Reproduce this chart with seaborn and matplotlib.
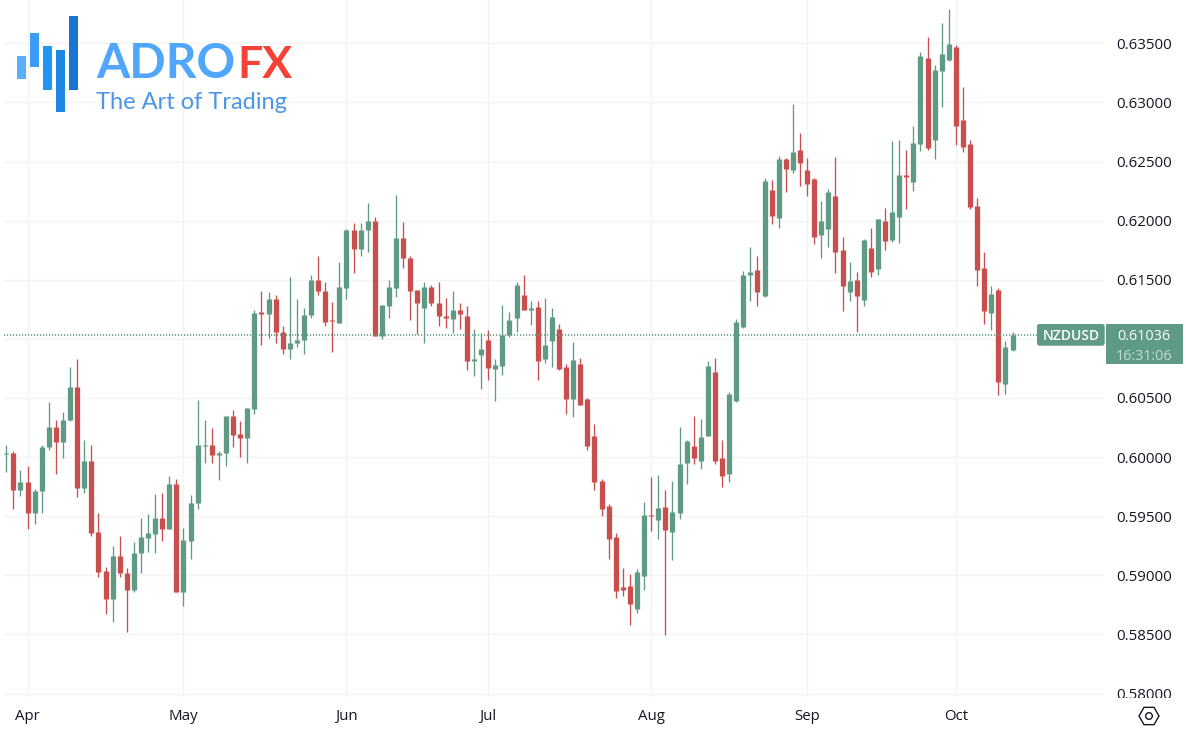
import matplotlib
matplotlib.use('Agg')
import matplotlib.pyplot as plt
from matplotlib.patches import Rectangle, RegularPolygon, Circle, FancyBboxPatch
from matplotlib.transforms import Bbox
import pandas as pd
import seaborn as sns

# NZDUSD daily candles
opens = [
    0.60027, 0.60037, 0.59718, 0.59791, 0.59526, 0.59710, 0.60085, 0.60251, 0.60127, 0.60310,
    0.60595, 0.59735, 0.59963, 0.59363, 0.59033, 0.58796, 0.59165, 0.59019, 0.58872, 0.59188,
    0.59318, 0.59351, 0.59481, 0.59391, 0.59774, 0.58858, 0.59289, 0.59611, 0.60094, 0.60104,
    0.60017, 0.60034, 0.60344, 0.60192, 0.60161, 0.60403, 0.61223, 0.61214, 0.61338, 0.61056,
    0.60913, 0.60966, 0.60994, 0.61206, 0.61499, 0.61406, 0.61158, 0.61138, 0.61434, 0.61922,
    0.61764, 0.61919, 0.61998, 0.61025, 0.61282, 0.61434, 0.61854, 0.61682, 0.61415, 0.61265,
    0.61437, 0.61305, 0.61195, 0.61169, 0.61240, 0.61195, 0.60817, 0.60867, 0.60992, 0.60749,
    0.60769, 0.61034, 0.61178, 0.61372, 0.61247, 0.61271, 0.60833, 0.60982, 0.61087, 0.60765,
    0.60494, 0.60790, 0.60494, 0.60176, 0.59798, 0.59586, 0.59321, 0.58901, 0.58910, 0.58718,
    0.58997, 0.59510, 0.59465, 0.59581, 0.59364, 0.59530, 0.59947, 0.60097, 0.59970, 0.60181,
    0.60717, 0.59995, 0.59860, 0.60472, 0.61098, 0.61538, 0.61585, 0.61363, 0.62257, 0.62025,
    0.62519, 0.62429, 0.62598, 0.62429, 0.62353, 0.61879, 0.61932, 0.62209, 0.61752, 0.61397,
    0.61501, 0.61329, 0.61766, 0.61591, 0.61997, 0.61836, 0.62028, 0.62389, 0.62324, 0.62647,
    0.63375, 0.62681, 0.63268, 0.63355, 0.63468, 0.62851, 0.62650, 0.62126, 0.61598, 0.61221,
    0.61412, 0.60620, 0.60910,
]
highs = [
    0.60104, 0.60051, 0.59887, 0.59924, 0.59726, 0.60104, 0.60462, 0.60310, 0.60384, 0.60761,
    0.60826, 0.60141, 0.60099, 0.59529, 0.59069, 0.59250, 0.59329, 0.59058, 0.59284, 0.59481,
    0.59515, 0.59684, 0.59693, 0.59842, 0.59811, 0.59397, 0.59676, 0.60479, 0.60316, 0.60243,
    0.60048, 0.60350, 0.60395, 0.60302, 0.60417, 0.61245, 0.61403, 0.61395, 0.61372, 0.61110,
    0.61522, 0.61336, 0.61259, 0.61536, 0.61702, 0.61479, 0.61310, 0.61651, 0.61931, 0.61979,
    0.61979, 0.62148, 0.62029, 0.61288, 0.61499, 0.62218, 0.61990, 0.61702, 0.61415, 0.61479,
    0.61457, 0.61479, 0.61344, 0.61403, 0.61302, 0.61279, 0.61082, 0.61048, 0.61073, 0.60828,
    0.61290, 0.61223, 0.61485, 0.61536, 0.61321, 0.61321, 0.61349, 0.61261, 0.61126, 0.60790,
    0.60977, 0.60841, 0.60500, 0.60283, 0.59818, 0.59603, 0.59361, 0.59059, 0.59011, 0.59056,
    0.59617, 0.59834, 0.59846, 0.59719, 0.59801, 0.60255, 0.60142, 0.60351, 0.60325, 0.60816,
    0.60841, 0.60148, 0.60548, 0.61168, 0.61572, 0.61780, 0.61701, 0.62358, 0.62344, 0.62547,
    0.62530, 0.62987, 0.62742, 0.62530, 0.62358, 0.62166, 0.62265, 0.62539, 0.61862, 0.61648,
    0.61569, 0.61842, 0.61938, 0.62014, 0.62107, 0.62671, 0.62685, 0.62598, 0.62798, 0.63426,
    0.63553, 0.63316, 0.63668, 0.63787, 0.63485, 0.63130, 0.62681, 0.62191, 0.61731, 0.61446,
    0.61426, 0.60981, 0.61057,
]
lows = [
    0.59873, 0.59563, 0.59670, 0.59391, 0.59430, 0.59526, 0.60059, 0.59856, 0.59992, 0.60305,
    0.59659, 0.59693, 0.59332, 0.58982, 0.58677, 0.58604, 0.58985, 0.58517, 0.58858, 0.59019,
    0.59199, 0.59193, 0.59287, 0.59391, 0.58858, 0.58739, 0.59137, 0.59557, 0.59949, 0.59946,
    0.59808, 0.59921, 0.60082, 0.59997, 0.59946, 0.60361, 0.60949, 0.61011, 0.60969, 0.60876,
    0.60831, 0.60927, 0.60876, 0.61175, 0.61375, 0.61113, 0.60893, 0.61133, 0.61341, 0.61556,
    0.61705, 0.61736, 0.61020, 0.60997, 0.61180, 0.61350, 0.61601, 0.61161, 0.61045, 0.60969,
    0.61282, 0.61113, 0.61093, 0.61048, 0.61082, 0.60738, 0.60687, 0.60580, 0.60650, 0.60478,
    0.60698, 0.61014, 0.61059, 0.61240, 0.61118, 0.60650, 0.60793, 0.60765, 0.60734, 0.60367,
    0.60339, 0.60444, 0.60060, 0.59719, 0.59505, 0.59138, 0.58811, 0.58828, 0.58580, 0.58681,
    0.58878, 0.59378, 0.59304, 0.58498, 0.59132, 0.59479, 0.59775, 0.59944, 0.59897, 0.60176,
    0.59944, 0.59747, 0.59787, 0.60469, 0.61095, 0.61323, 0.61281, 0.61351, 0.61972, 0.61938,
    0.62243, 0.62406, 0.62293, 0.62209, 0.61800, 0.61684, 0.61780, 0.61560, 0.61239, 0.61320,
    0.61061, 0.61278, 0.61526, 0.61543, 0.61752, 0.61820, 0.61811, 0.62102, 0.62251, 0.62588,
    0.62597, 0.62521, 0.62961, 0.63350, 0.62639, 0.62580, 0.62098, 0.61449, 0.61122, 0.61074,
    0.60524, 0.60532, 0.60899,
]
closes = [
    0.60037, 0.59721, 0.59791, 0.59526, 0.59710, 0.60085, 0.60251, 0.60127, 0.60316, 0.60595,
    0.59738, 0.59963, 0.59357, 0.59027, 0.58796, 0.59165, 0.59019, 0.58872, 0.59193, 0.59320,
    0.59354, 0.59481, 0.59391, 0.59774, 0.58858, 0.59295, 0.59611, 0.60099, 0.60104, 0.60017,
    0.60037, 0.60344, 0.60189, 0.60161, 0.60412, 0.61220, 0.61214, 0.61338, 0.61054, 0.60915,
    0.60966, 0.60994, 0.61206, 0.61499, 0.61406, 0.61144, 0.61147, 0.61437, 0.61922, 0.61764,
    0.61922, 0.61998, 0.61025, 0.61288, 0.61437, 0.61854, 0.61680, 0.61409, 0.61307, 0.61437,
    0.61307, 0.61195, 0.61178, 0.61245, 0.61209, 0.60817, 0.60828, 0.60915, 0.60752, 0.60780,
    0.61034, 0.61161, 0.61454, 0.61245, 0.61257, 0.60814, 0.60951, 0.61188, 0.60745, 0.60492,
    0.60824, 0.60444, 0.60091, 0.59787, 0.59558, 0.59304, 0.58870, 0.58873, 0.58760, 0.59031,
    0.59510, 0.59499, 0.59567, 0.59386, 0.59536, 0.59944, 0.60136, 0.59990, 0.60173, 0.60774,
    0.59964, 0.59843, 0.60537, 0.61143, 0.61538, 0.61566, 0.61399, 0.62336, 0.62042, 0.62522,
    0.62440, 0.62581, 0.62491, 0.62313, 0.61865, 0.61994, 0.62243, 0.61738, 0.61447, 0.61490,
    0.61366, 0.61834, 0.61566, 0.62014, 0.61831, 0.62076, 0.62389, 0.62372, 0.62657, 0.63392,
    0.62614, 0.63274, 0.63406, 0.63494, 0.62803, 0.62619, 0.62115, 0.61582, 0.61237, 0.61378,
    0.60634, 0.60927, 0.61034,
]

month_labels = ['Apr', 'May', 'Jun', 'Jul', 'Aug', 'Sep', 'Oct']
month_candles = [3, 25, 48, 68, 91, 113, 134]
price_ticks = [0.580, 0.585, 0.590, 0.595, 0.600, 0.605, 0.610, 0.615, 0.620, 0.625, 0.630, 0.635]
last_price = 0.61036

GREEN = '#5f9a85'
RED = '#c94f4f'
GRID = '#f2f3f5'
TEXT = '#131722'

W, H = 1186, 742

sns.set_theme(style='whitegrid')
plt.rcParams['font.family'] = ['Open Sans', 'DejaVu Sans']

df = pd.DataFrame({'open': opens, 'high': highs, 'low': lows, 'close': closes})
df['candle'] = df.index
df['side'] = ['up' if c >= o else 'down' for o, c in zip(opens, closes)]
palette = {'up': GREEN, 'down': RED}

wicks = df.melt(id_vars=['candle', 'side'], value_vars=['high', 'low'], value_name='price')
bodies = df.melt(id_vars=['candle', 'side'], value_vars=['open', 'close'], value_name='price')

fig = plt.figure(figsize=(W / 100, H / 100), dpi=100)
# chart pane is 4..1104 px across, 0..697 px down
ax = fig.add_axes([4 / W, (H - 697) / H, 1100 / W, 697 / H])

sns.lineplot(data=wicks, x='candle', y='price', units='candle', hue='side', palette=palette,
             estimator=None, sort=False, errorbar=None, legend=False, ax=ax,
             linewidth=0.95, solid_capstyle='butt')
sns.lineplot(data=bodies, x='candle', y='price', units='candle', hue='side', palette=palette,
             estimator=None, sort=False, errorbar=None, legend=False, ax=ax,
             linewidth=3.8, solid_capstyle='butt')

# dotted last price line, drawn over the candles like the original
ax.axhline(last_price, color=GREEN, lw=1.2, linestyle=(0, (0.7, 1.1)), zorder=5)

ax.set_xlim(-0.3245, 154.9)
ax.set_ylim(0.57971, 0.63866)
ax.set_xlabel('')
ax.set_ylabel('')
for s in ax.spines.values():
    s.set_visible(False)
ax.grid(True, color=GRID, lw=1)
ax.set_axisbelow(True)

ax.set_xticks(month_candles)
ax.set_xticklabels(month_labels, fontsize=10.8, color=TEXT)
ax.set_yticks(price_ticks)
ax.set_yticklabels([f'{p:.5f}' for p in price_ticks], fontsize=10.8, color=TEXT)
ax.yaxis.tick_right()
ax.tick_params(axis='y', length=0, pad=9)
ax.tick_params(axis='x', length=0, pad=8.5)

# the lowest price label is cut off by the pane in the original
for lbl in ax.get_yticklabels():
    lbl.set_clip_box(Bbox([[1104, H - 698], [W, H]]))
    lbl.set_clip_on(True)

# overlay in pixel coordinates for logo and tags
ov = fig.add_axes([0, 0, 1, 1], facecolor='none')
ov.set_xlim(0, W)
ov.set_ylim(H, 0)
ov.axis('off')

logo_bars = [(17, 56, 79, '#5aaefc'), (30, 33, 67, '#3b9cf5'), (43, 46, 90, '#1e96f8'),
             (56, 50, 112, '#1f88e5'), (69, 16, 90, '#1a75d2')]
for x0, y0, y1, c in logo_bars:
    ov.add_patch(Rectangle((x0, y0), 8.7, y1 - y0, fc=c, ec='none'))

ov.text(96, 78, 'ADRO', fontsize=34.5, fontweight='bold', family='Lato', color='#4fa6fb', va='baseline')
ov.text(237, 78, 'FX', fontsize=32, fontweight='bold', family='Lato', color='#f44336', va='baseline')
ov.text(96, 109, 'The Art of Trading', fontsize=17, family='Lato', color='#4b97e6', va='baseline')

# symbol and price tags
ov.add_patch(FancyBboxPatch((1037, 324), 67.7, 21.7, boxstyle='round,pad=0,rounding_size=2.5',
                            fc=GREEN, ec='none'))
ov.add_patch(Rectangle((1106, 324), 77, 40, fc=GREEN, ec='none'))
ov.text(1071, 335, 'NZDUSD', fontsize=10, color='white', ha='center', va='center_baseline', fontweight='semibold')
ov.text(1144, 334.5, '0.61036', fontsize=10.4, color='white', ha='center', va='center_baseline')
ov.text(1144, 354.5, '16:31:06', fontsize=10.4, color='#c3dcd2', ha='center', va='center_baseline')

# settings icon bottom right
ov.add_patch(RegularPolygon((1149, 716), 6, radius=10, orientation=0.5236, fc='none', ec=TEXT, lw=1))
ov.add_patch(Circle((1149, 716), 3.3, fc='none', ec=TEXT, lw=1))

fig.savefig('out.png', dpi=100)
